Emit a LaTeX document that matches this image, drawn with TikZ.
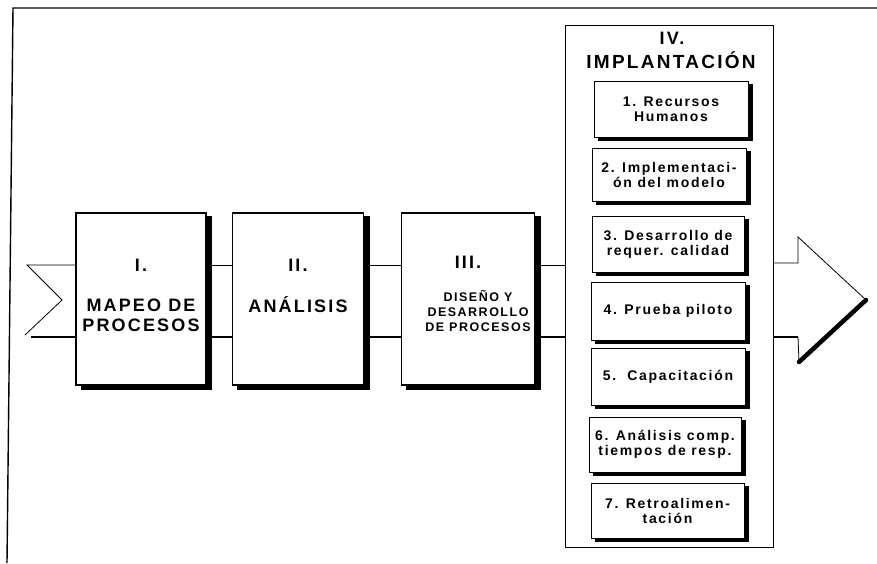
\documentclass[tikz,border=0pt]{standalone}
\usepackage{fontspec}
\setmainfont[LetterSpace=12]{Liberation Sans}

\tikzset{
  x=1pt, y=-1pt,
  stagebox/.style={draw, line width=1.1pt, fill=white, inner sep=0pt, outer sep=0pt,
    minimum height=172pt,
    preaction={draw, fill=black, line width=1.1pt, transform canvas={xshift=5.5pt, yshift=-4pt}}},
  subbox/.style={draw, line width=0.8pt, fill=white, inner sep=0pt, outer sep=0pt,
    align=center, font=\bfseries\fontsize{14}{15}\selectfont,
    preaction={draw, fill=black, line width=0.8pt, transform canvas={xshift=4.5pt, yshift=-3.5pt}}},
  container/.style={draw, line width=0.8pt, inner sep=0pt, outer sep=0pt},
  bigtxt/.style={align=center, inner sep=0pt, font=\bfseries\fontsize{18}{20}\selectfont},
  midtxt/.style={align=center, inner sep=0pt, font=\bfseries\fontsize{12.5}{15}\selectfont},
  thinline/.style={line width=0.8pt},
  shadeline/.style={line width=2.8pt},
  frameline/.style={line width=1.4pt},
}

\begin{document}
\begin{tikzpicture}
\useasboundingbox (0,0) rectangle (877,563);

% outer frame (left and top edges)
\draw[frameline] (7,563) -- (13,8) -- (877,8);

% main stages (boxes carry their own offset black shadow)
\node[stagebox, minimum width=130pt] (bI)   at (141,299) {};
\node[stagebox, minimum width=131pt] (bII)  at (298,299) {};
\node[stagebox, minimum width=133pt] (bIII) at (468,299) {};

\node[bigtxt] (nI)   at (141,265) {I.};
\node[bigtxt] (lI)   at (141,315.5) {MAPEO DE\\PROCESOS};
\node[bigtxt] (nII)  at (298,265) {II.};
\node[bigtxt, anchor=base] (lII) at (298,312) {ANÁLISIS};
\node[bigtxt] (nIII) at (468,262) {III.};
\node[midtxt] (lIII) at (478,311) {DISEÑO Y\\DESARROLLO\\DE PROCESOS};

% implementation stage
\node[container, minimum width=208pt, minimum height=522pt] (cIV) at (669,286) {};
\node[bigtxt] (nIV) at (672,38.5) {IV.};
\node[bigtxt, anchor=base, font=\bfseries\fontsize{19}{20}\selectfont] (lIV) at (671,68) {IMPLANTACIÓN};

\node[subbox, minimum width=154pt, minimum height=56pt] (s1) at (671,109)   {1. Recursos\\Humanos};
\node[subbox, minimum width=154pt, minimum height=53pt] (s2) at (669,174.5) {2. Implementaci-\\ón del modelo};
\node[subbox, minimum width=152pt, minimum height=56pt] (s3) at (668,244)   {3. Desarrollo de\\requer. calidad};
\node[subbox, minimum width=154pt, minimum height=58pt] (s4) at (668,311)   {4. Prueba piloto};
\node[subbox, minimum width=154pt, minimum height=57pt] (s5) at (668,376.5) {5.\ \ Capacitación};
\node[subbox, minimum width=152pt, minimum height=55pt] (s6) at (665,444.5) {6. Análisis comp.\\tiempos de resp.};
\node[subbox, minimum width=153pt, minimum height=55pt] (s7) at (667.5,510.5) {7. Retroalimen-\\tación};

% process band: notched tail
\coordinate (nt) at (27,265);
\coordinate (nn) at (62,300);
\coordinate (nb) at (25,335);
\coordinate (bt) at (0,265);
\coordinate (bb) at (0,337);
\draw[thinline, line join=miter] (bI.west |- bt) -- (nt) -- (nn) -- (nb);
\draw[shadeline] (31,337) -- (bI.west |- bb);

% band segments between stages
\draw[thinline] (bI.east |- bt) -- (bII.west |- bt);
\draw[shadeline] (bI.east |- bb) -- (bII.west |- bb);
\draw[thinline] (bII.east |- bt) -- (bIII.west |- bt);
\draw[shadeline] (bII.east |- bb) -- (bIII.west |- bb);
\draw[thinline] (bIII.east |- bt) -- (cIV.west |- bt);
\draw[shadeline] (bIII.east |- bb) -- (cIV.west |- bb);

% arrow head
\coordinate (ht) at (798,237);
\coordinate (hb) at (799,362);
\coordinate (tip) at (866,300);
\draw[thinline] (cIV.east |- 0,263) -- (798,263) -- (ht) -- (tip);
\draw[shadeline] (cIV.east |- bb) -- (798,337);
\draw[thinline] (798,337) -- (hb);
\draw[line width=4.5pt, line cap=round] (hb) -- (tip);
\end{tikzpicture}
\end{document}
